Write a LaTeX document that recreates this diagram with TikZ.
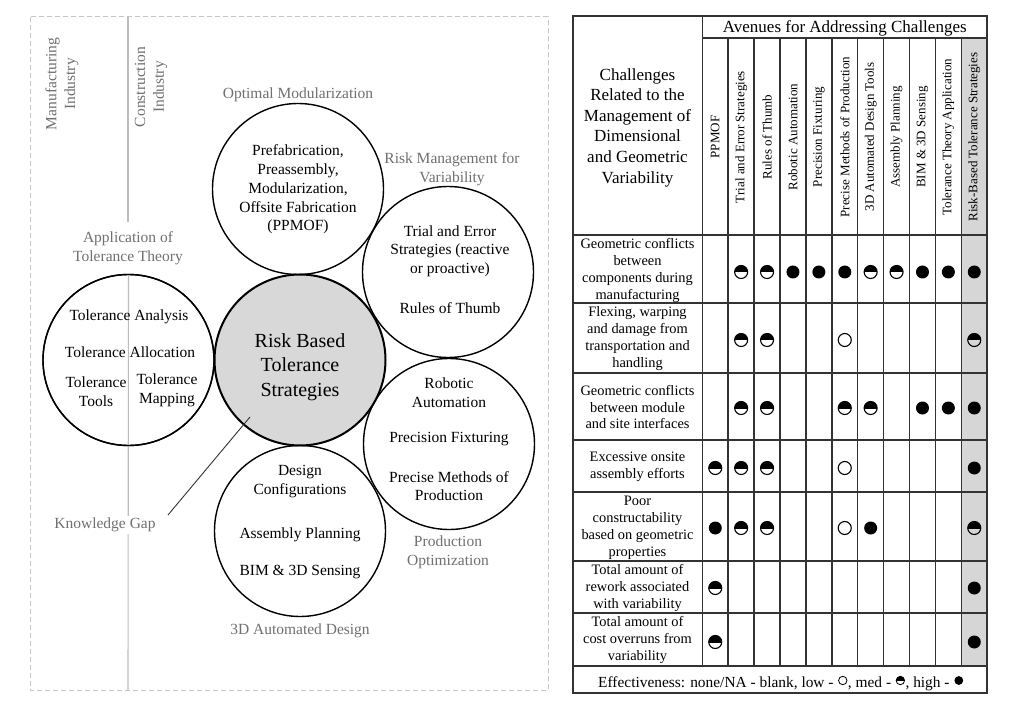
\documentclass[tikz,border=0pt]{standalone}
\usepackage{fontspec}
\setmainfont{Liberation Serif}
\usetikzlibrary{calc}
\definecolor{lbl}{HTML}{707070}
\definecolor{tline}{HTML}{333333}
\definecolor{colshade}{HTML}{D6D6D6}
\definecolor{framecol}{HTML}{C6C6C6}
\definecolor{divcol}{HTML}{BDBDBD}
\definecolor{corefill}{HTML}{D8D8D8}
\newcommand\SymL[3]{\draw[black,line width=1.1pt,fill=white] (#1,#2) circle (#3);}
\newcommand\SymM[3]{\begin{scope}\clip (#1-#3-1,#2-#3-1) rectangle (#1+#3+1,#2);\fill[black] (#1,#2) circle (#3);\end{scope}\draw[black,line width=1.1pt] (#1,#2) circle (#3);}
\newcommand\SymH[3]{\fill[black] (#1,#2) circle (#3);}
\begin{document}
\begin{tikzpicture}[x=1pt,y=-1pt,
  bubble/.style={circle,draw=black,line width=1.4pt,minimum size=171pt,inner sep=0pt},
  ctext/.style={align=center,font=\fontsize{15.5}{18.7}\selectfont,inner sep=0pt},
  glabel/.style={align=center,text=lbl,font=\fontsize{15.5}{18.7}\selectfont,inner sep=1pt},
  ttext/.style={align=center,font=\fontsize{14.4}{17}\selectfont,inner sep=0pt},
  colhead/.style={rotate=90,font=\fontsize{13}{15}\selectfont,inner sep=0pt},
  legendtext/.style={anchor=base west,font=\fontsize{15.4}{17}\selectfont,inner sep=0pt},
  tl/.style={draw=tline,line width=1.5pt},
  divider/.style={draw=divcol,line width=1.1pt},
]
\useasboundingbox (0,0) rectangle (1029,714);
\fill[white] (0,0) rectangle (1029,714);

% ---------------- left panel ----------------
\draw[framecol,line width=1pt,dash pattern=on 5pt off 3pt] (30,17) rectangle (548,690);
\coordinate (divtop) at (128,17);
\coordinate (divmid) at (128,222);
\coordinate (divbot) at (128,690);

\node[bubble] (lc) at (128.5,360) {};
\draw[divider] (divtop) -- (divmid);
\draw[divider] (lc.north) -- (divbot);
\node[bubble] (lc2) at (128.5,360) {};

\node[glabel,rotate=90,fill=white] (manu) at (62,84) {Manufacturing\\Industry};
\node[glabel,rotate=90,fill=white] (cons) at (151,87) {Construction\\Industry};

\node[bubble] (top) at (298,189) {};
\node[bubble] (rtop) at (448,272) {};
\node[bubble] (rbot) at (449,444) {};
\node[bubble] (bot) at (300,531) {};
\node[bubble,fill=corefill,line width=2pt] (core) at (300,360) {};

% texts in bubbles
\node[ctext] (ttop) at (298,189.5) {Prefabrication,\\Preassembly,\\Modularization,\\Offsite Fabrication\\(PPMOF)};
\node[ctext] (trt1) at (450,251) {Trial and Error\\Strategies (reactive\\or proactive)};
\node[ctext] (trt2) at (450,308) {Rules of Thumb};
\node[ctext] (trb1) at (449,392.5) {Robotic\\Automation};
\node[ctext] (trb2) at (449,439) {Precision Fixturing};
\node[ctext] (trb3) at (449,486) {Precise Methods of\\Production};
\node[ctext] (tb1) at (300,481.5) {Design\\Configurations};
\node[ctext] (tb2) at (300,535) {Assembly Planning};
\node[ctext] (tb3) at (300,572) {BIM \& 3D Sensing};
\node[ctext] (tl1) at (129,317) {Tolerance Analysis};
\node[ctext] (tl2) at (130,352) {Tolerance Allocation};
\node[ctext] (tl3) at (96,391.5) {Tolerance\\Tools};
\node[ctext] (tl4) at (167,390.5) {Tolerance\\Mapping};
\node[align=center,inner sep=0pt,font=\fontsize{20}{24.5}\selectfont] (tcore) at (300,367) {Risk Based\\Tolerance\\Strategies};

% grey labels
\node[glabel] (lopt) at (298,95) {Optimal Modularization};
\node[glabel] (lrisk) at (452,169.5) {Risk Management for\\Variability};
\node[glabel,fill=white] (lapp) at (128,248.5) {Application of\\Tolerance Theory};
\node[glabel] (lprod) at (448,552.5) {Production\\Optimization};
\node[glabel] (l3d) at (300,631) {3D Automated Design};
\node[glabel,fill=white,inner sep=2pt] (lkg) at (105,525) {Knowledge Gap};
\coordinate (kgA) at (168,515);
\coordinate (kgB) at (250,417);
\draw[draw=tline,line width=0.9pt] (kgA) -- (kgB);

% ---------------- table ----------------
\fill[colshade] (961.3,38) rectangle (987.3,666);
\foreach \i in {1,...,10}{
  \draw[tl] ({702.3+25.9*\i},38) -- ({702.3+25.9*\i},666);
}
\draw[tl] (702.3,16) -- (702.3,666);
\draw[tl] (702.3,38) -- (987.3,38);
\foreach \yy in {235,303,373,440,492,561,613,666}{
  \draw[tl] (573,\yy) -- (987.3,\yy);
}
\draw[draw=tline,line width=1.8pt] (573,16) rectangle (987.3,693);

\node[inner sep=0pt,font=\fontsize{17}{20.6}\selectfont] (av) at (844.8,28) {Avenues for Addressing Challenges};
\node[align=center,inner sep=0pt,font=\fontsize{17}{20.6}\selectfont] (chal) at (637.5,127.5) {Challenges\\Related to the\\Management of\\Dimensional\\and Geometric\\Variability};

\foreach \t [count=\c] in {PPMOF,Trial and Error Strategies,Rules of Thumb,Robotic Automation,Precision Fixturing,Precise Methods of Production,3D Automated Design Tools,Assembly Planning,BIM \& 3D Sensing,Tolerance Theory Application,Risk-Based Tolerance Strategies}{
  \node[colhead] (h\c) at ({702.3+25.9*(\c-0.5)},137) {\t};
}

\node[ttext] (r1) at (637.5,270.5) {Geometric conflicts\\between\\components during\\manufacturing};
\node[ttext] (r2) at (637.5,338.5) {Flexing, warping\\and damage from\\transportation and\\handling};
\node[ttext] (r3) at (637.5,407) {Geometric conflicts\\between module\\and site interfaces};
\node[ttext] (r4) at (637.5,467) {Excessive onsite\\assembly efforts};
\node[ttext] (r5) at (637.5,527.5) {Poor\\constructability\\based on geometric\\properties};
\node[ttext] (r6) at (637.5,587.7) {Total amount of\\rework associated\\with variability};
\node[ttext] (r7) at (637.5,640) {Total amount of\\cost overruns from\\variability};

\foreach \yy/\codes in {272/{0,2,2,3,3,3,2,2,3,3,3},340/{0,2,2,0,0,1,0,0,0,0,2},408/{0,2,2,0,0,2,2,0,3,3,3},468/{2,2,2,0,0,1,0,0,0,0,3},528/{3,2,2,0,0,1,3,0,0,0,2},588/{2,0,0,0,0,0,0,0,0,0,3},642/{2,0,0,0,0,0,0,0,0,0,3}}{
  \foreach \k [count=\c] in \codes {
    \pgfmathsetmacro\xx{702.3+25.9*(\c-0.5)}
    \ifcase\k\relax \or \SymL{\xx}{\yy}{6.5} \or \SymM{\xx}{\yy}{6.5} \or \SymH{\xx}{\yy}{6.5} \fi
  }
}

% legend
\node[legendtext] (lg1) at (598,687) {Effectiveness: none/NA - blank, low -};
\coordinate (ls1) at ($(lg1.base east)+(9,-6.5)$);
\node[legendtext] (lg2) at ($(lg1.base east)+(14,0)$) {, med -};
\coordinate (ls2) at ($(lg2.base east)+(9,-6.5)$);
\node[legendtext] (lg3) at ($(lg2.base east)+(14,0)$) {, high -};
\coordinate (ls3) at ($(lg3.base east)+(9,-6.5)$);
\draw[black,line width=0.8pt] (ls1) circle (4.2);
\begin{scope}
  \clip ($(ls2)+(-5.5,-5.5)$) rectangle ($(ls2)+(5.5,0)$);
  \fill[black] (ls2) circle (4.2);
\end{scope}
\draw[black,line width=0.8pt] (ls2) circle (4.2);
\fill[black] (ls3) circle (4.4);
\end{tikzpicture}
\end{document}
